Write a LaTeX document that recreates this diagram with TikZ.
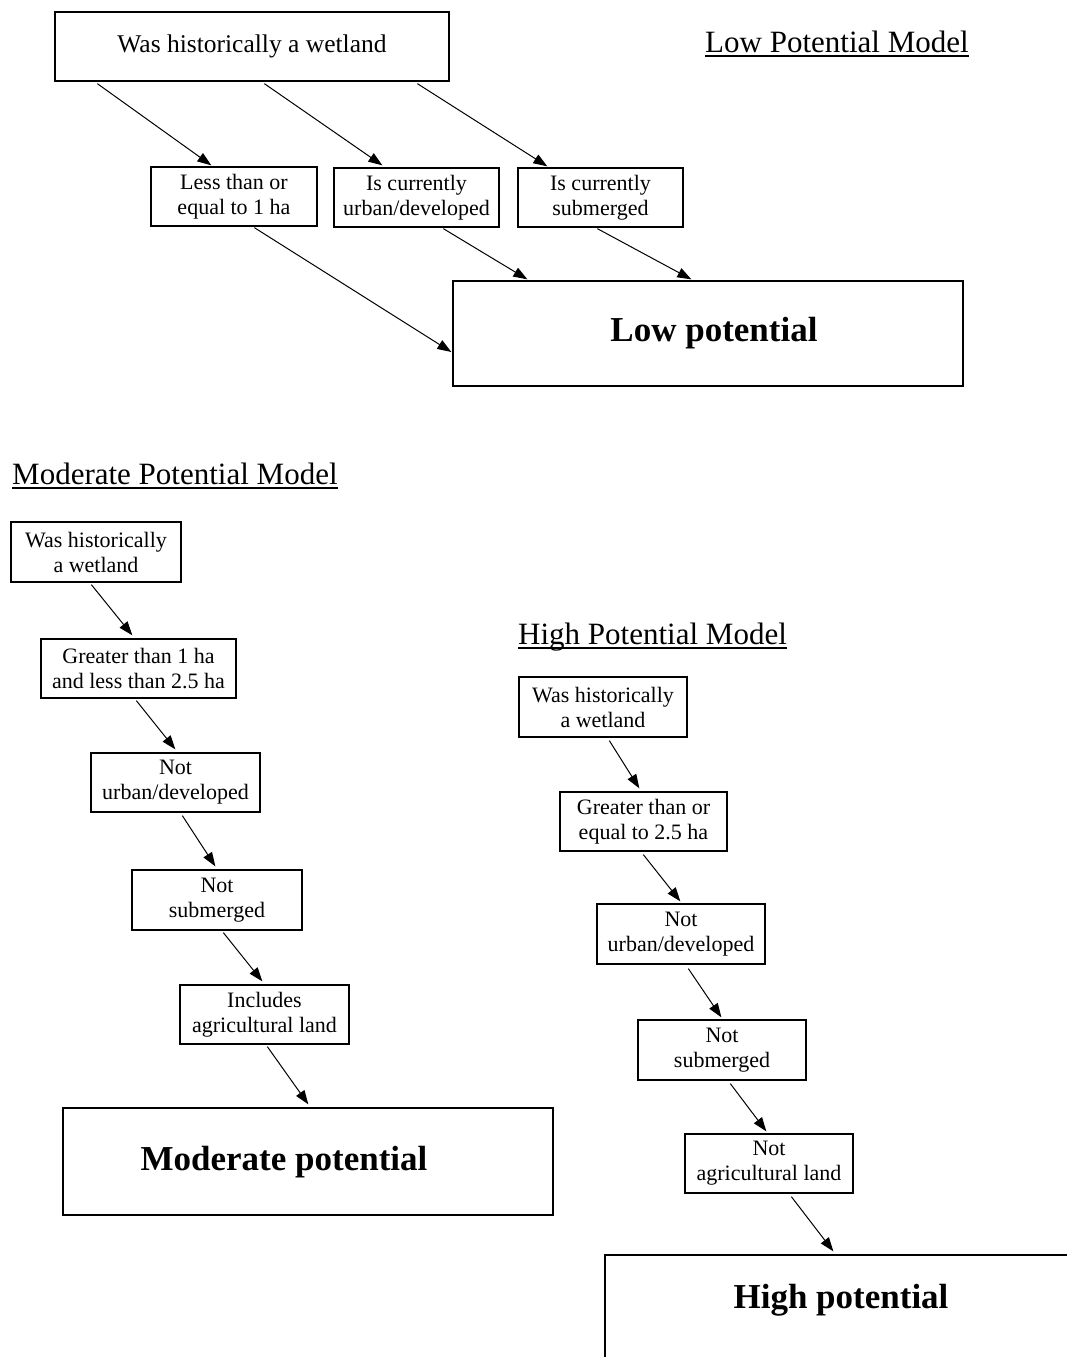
\documentclass[tikz,border=0pt]{standalone}
\usepackage{fontspec}
\setmainfont{Liberation Serif}
\usetikzlibrary{arrows.meta,calc}

\begin{document}
\begin{tikzpicture}[x=1pt,y=-1pt,
    stepbox/.style={draw,line width=1.3pt,inner sep=0pt,align=center,font=\fontsize{22}{25}\selectfont},
    resbox/.style={draw,line width=1.3pt,inner sep=0pt},
    restext/.style={font=\fontsize{35}{40}\selectfont\bfseries},
    modeltitle/.style={anchor=base west,inner sep=0pt,font=\fontsize{31}{36}\selectfont},
    underline/.style={line width=1.6pt},
    flow/.style={line width=1pt,-{Triangle[length=14pt,width=10pt]}}]
\clip (0,0) rectangle (1067,1357);

% ---------------- Low potential model ----------------
\node [modeltitle] (lowTitle) at (705,52) {Low Potential Model};%
\draw [underline] ($(lowTitle.base west)+(0,4)$) -- ($(lowTitle.base east)+(0,4)$);%

% Boxes
\node [stepbox,minimum width=394,minimum height=69,font=\fontsize{25.5}{29}\selectfont] (lowWet) at (252,46.5) {Was historically a wetland};%
\node [stepbox,minimum width=166,minimum height=59] (lowSmall) at (234,196.5) {Less than or\\equal to 1 ha};%
\node [stepbox,minimum width=165,minimum height=59] (lowUrban) at (416.5,197.5) {Is currently\\urban/developed};%
\node [stepbox,minimum width=165,minimum height=59] (lowSub) at (600.5,197.5) {Is currently\\submerged};%
\node [resbox,minimum width=510,minimum height=105] (lowRes) at (708,333.5) {};%
\node [restext] (lowResText) at (714,333) {Low potential};%

% Arrows
\draw [flow] ($(lowWet.south west)+(43,2)$) -- ($(lowSmall.north west)+(61,-1)$);%
\draw [flow] ($(lowWet.south west)+(210,2)$) -- ($(lowUrban.north west)+(49,-2)$);%
\draw [flow] ($(lowWet.south west)+(363,2)$) -- ($(lowSub.north west)+(30,-1)$);%
\draw [flow] ($(lowSmall.south west)+(104,1)$) -- ($(lowRes.west)+(-1,18.5)$);%
\draw [flow] ($(lowUrban.south west)+(110,1)$) -- ($(lowRes.north west)+(75,-1)$);%
\draw [flow] ($(lowSub.south west)+(80,1)$) -- ($(lowRes.north west)+(239,-1)$);%

% ---------------- Moderate potential model ----------------
\node [modeltitle] (modTitle) at (12,484) {Moderate Potential Model};%
\draw [underline] ($(modTitle.base west)+(0,4)$) -- ($(modTitle.base east)+(0,4)$);%

% Boxes
\node [stepbox,minimum width=170,minimum height=60] (modWet) at (96,552) {Was historically\\a wetland};%
\node [stepbox,minimum width=195,minimum height=59] (modSize) at (138.5,668.5) {Greater than 1 ha\\and less than 2.5 ha};%
\node [stepbox,minimum width=169,minimum height=59] (modUrban) at (175.5,782.5) {Not\\urban/developed};%
\node [stepbox,minimum width=170,minimum height=60] (modSub) at (217,900) {Not\\submerged};%
\node [stepbox,minimum width=169,minimum height=59] (modAgri) at (264.5,1014.5) {Includes\\agricultural land};%
\node [resbox,minimum width=490,minimum height=107] (modRes) at (308,1161.5) {};%
\node [restext] (modResText) at (284,1162) {Moderate potential};%

% Arrows
\draw [flow] ($(modWet.south west)+(81,2)$) -- ($(modSize.north west)+(92,-3)$);%
\draw [flow] ($(modSize.south west)+(96,2)$) -- ($(modUrban.north west)+(85,-3)$);%
\draw [flow] ($(modUrban.south west)+(92,3)$) -- ($(modSub.north west)+(84,-3)$);%
\draw [flow] ($(modSub.south west)+(92,2)$) -- ($(modAgri.north west)+(83,-3)$);%
\draw [flow] ($(modAgri.south west)+(88,2)$) -- ($(modRes.north west)+(246,-3)$);%

% ---------------- High potential model ----------------
\node [modeltitle] (highTitle) at (518,644) {High Potential Model};%
\draw [underline] ($(highTitle.base west)+(0,4)$) -- ($(highTitle.base east)+(0,4)$);%

% Boxes
\node [stepbox,minimum width=168,minimum height=60] (highWet) at (603,707) {Was historically\\a wetland};%
\node [stepbox,minimum width=167,minimum height=59] (highSize) at (643.5,821.5) {Greater than or\\equal to 2.5 ha};%
\node [stepbox,minimum width=168,minimum height=60] (highUrban) at (681,934) {Not\\urban/developed};%
\node [stepbox,minimum width=168,minimum height=60] (highSub) at (722,1050) {Not\\submerged};%
\node [stepbox,minimum width=168,minimum height=59] (highAgri) at (769,1163.5) {Not\\agricultural land};%
\node [resbox,minimum width=472,minimum height=107] (highRes) at (841,1308.5) {};%
\node [restext] (highResText) at (841,1300) {High potential};%

% Arrows
\draw [flow] ($(highWet.south west)+(91,3)$) -- ($(highSize.north west)+(80,-3)$);%
\draw [flow] ($(highSize.south west)+(84,3)$) -- ($(highUrban.north west)+(84,-2)$);%
\draw [flow] ($(highUrban.south west)+(92,4)$) -- ($(highSub.north west)+(84,-2)$);%
\draw [flow] ($(highSub.south west)+(93,3)$) -- ($(highAgri.north west)+(82,-2)$);%
\draw [flow] ($(highAgri.south west)+(107,3)$) -- ($(highRes.north west)+(229,-3)$);%
\end{tikzpicture}
\end{document}
